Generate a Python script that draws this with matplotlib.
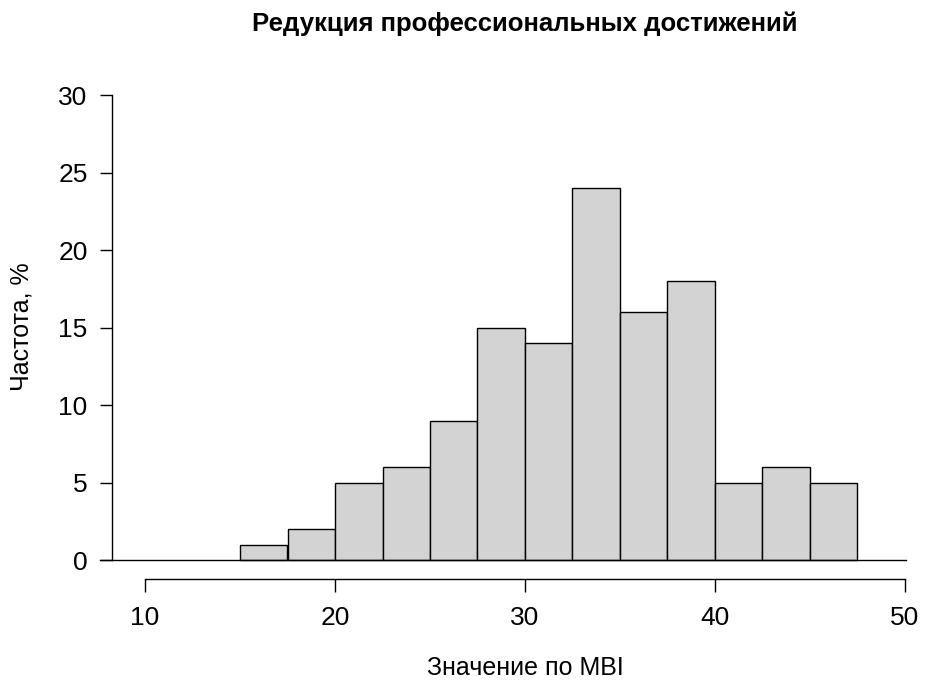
import numpy as np
import matplotlib.pyplot as plt

plt.rcParams['font.family'] = ['Liberation Sans', 'DejaVu Sans']

# histogram of MBI scores (bin edges and counts)
bin_edges = [15, 17.5, 20, 22.5, 25, 27.5, 30, 32.5, 35, 37.5, 40, 42.5, 45, 47.5]
counts = [1, 2, 5, 6, 9, 15, 14, 24, 16, 18, 5, 6, 5]
x_ticks = [10, 20, 30, 40, 50]
y_ticks = [0, 5, 10, 15, 20, 25, 30]

W, H = 925, 684
fig = plt.figure(figsize=(W / 100, H / 100), dpi=100)

# pixel layout: x=10 -> 145px, x=50 -> 905px ; y=0 -> 560px, y=30 -> 95px
px_per_x = (905 - 145) / 40
px_per_y = (560 - 95) / 30
left_px, right_px, top_px, bot_px = 95, 912, 88, 605
xlim = (10 + (left_px - 145) / px_per_x, 10 + (right_px - 145) / px_per_x)
ylim = ((560 - bot_px) / px_per_y, (560 - top_px) / px_per_y)

ax = fig.add_axes([left_px / W, 1 - bot_px / H, (right_px - left_px) / W, (bot_px - top_px) / H])
ax.set_xlim(*xlim)
ax.set_ylim(*ylim)

edges = np.array(bin_edges)
ax.bar(edges[:-1], counts, width=np.diff(edges), align='edge',
       color='#D3D3D3', edgecolor='black', linewidth=1.0, zorder=2)

# baseline
x0 = 10 + (100 - 145) / px_per_x
x1 = 10 + (906 - 145) / px_per_x
ax.plot([x0, x1], [0, 0], color='black', linewidth=1.0, zorder=3, clip_on=False)

# R-style detached axes
for s in ['top', 'right']:
    ax.spines[s].set_visible(False)
ax.spines['left'].set_position(('data', 10 + (112 - 145) / px_per_x))
ax.spines['left'].set_bounds(0, 30)
ax.spines['bottom'].set_position(('data', (560 - 579) / px_per_y))
ax.spines['bottom'].set_bounds(10, 50)
for s in ['left', 'bottom']:
    ax.spines[s].set_linewidth(1.0)

ax.set_xticks(x_ticks)
ax.set_yticks(y_ticks)
ax.tick_params(axis='y', direction='out', length=8.6, width=1.0, pad=9, labelsize=19)
ax.tick_params(axis='x', direction='out', length=9.4, width=1.0, pad=10, labelsize=19)

fig.text(525 / W, 1 - 24 / H, 'Редукция профессиональных достижений',
         ha='center', va='center', fontsize=18.5, fontweight='bold')
fig.text(525 / W, 1 - 668 / H, 'Значение по MBI', ha='center', va='center', fontsize=18)
fig.text(22 / W, 1 - 327 / H, 'Частота, %', ha='center', va='center', fontsize=18, rotation=90)

fig.savefig('out.png', dpi=100)
